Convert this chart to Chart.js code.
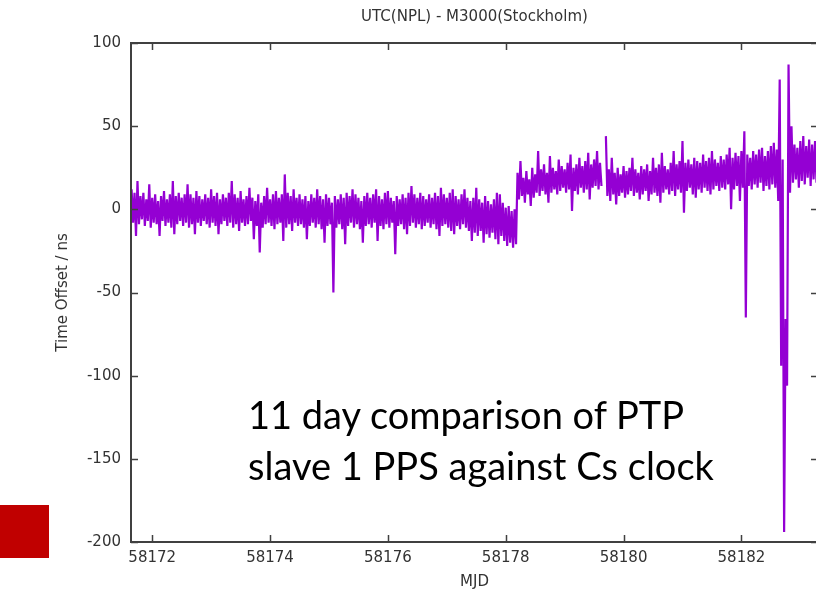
<!DOCTYPE html>
<html>

<head>
	<title>UTC(NPL) - M3000(Stockholm)</title>
	<script src="https://cdn.jsdelivr.net/npm/chart.js"></script>

	<style>
		body {
			margin: 0;
			background: #ffffff;
			overflow: hidden;
		}

		.wrap {
			position: relative;
			width: 816px;
			height: 591px;
			overflow: hidden;
		}

		.note {
			position: absolute;
			left: 248px;
			top: 389px;
			font-family: Lato, "Open Sans", sans-serif;
			font-size: 38px;
			line-height: 51px;
			color: #000000;
			white-space: nowrap;
		}

		.redbox {
			position: absolute;
			left: 0;
			top: 505px;
			width: 49px;
			height: 53px;
			background: #c00000;
		}
	</style>
</head>

<body>
	<div class="wrap">
		<canvas id="ptpChart" width="820" height="591"></canvas>
		<div class="note">11 day comparison of PTP<br />slave 1 PPS against Cs clock</div>
		<div class="redbox"></div>
	</div>

	<script>
		var chartTitle = "UTC(NPL) - M3000(Stockholm)";
		var xTitle = "MJD";
		var yTitle = "Time Offset / ns";

		var xTicks = [58172, 58174, 58176, 58178, 58180, 58182];
		var yTicks = [100, 50, 0, -50, -100, -150, -200];

		// samples every 0.05 MJD from 58171.65, upper and lower swing of each sample (ns)
		var mjdStart = 58171.65;
		var mjdStep = 0.05;

		var offsetHigh = [
			12, 10, 17, 8, 10, 6, 15, 7, 9, 5,
			8, 11, 6, 9, 17, 8, 10, 7, 9, 15,
			9, 7, 11, 8, 6, 9, 7, 12, 8, 10,
			6, 9, 7, 10, 17, 9, 7, 11, 6, 8,
			13, 7, 5, 9, 4, 8, 13, 6, 9, 11,
			7, 9, 21, 10, 8, 12, 7, 9, 6, 8,
			5, 9, 7, 12, 8, 6, 9, 7, 4, 8,
			6, 9, 7, 10, 8, 12, 9, 7, 5, 8,
			10, 7, 9, 12, 8, 6, 10, 11, 7, 5,
			8, 6, 9, 7, 10, 14, 9, 7, 10, 8,
			6, 9, 7, 10, 8, 13, 9, 7, 10, 12,
			8, 6, 9, 12, 7, 5, 7, 13, 6, 4,
			8, 5, 3, 6, 10, 9, 4, 1, 2, -1,
			0, 22, 29, 19, 23, 18, 25, 21, 35, 24,
			27, 22, 32, 25, 23, 30, 26, 24, 28, 33,
			25, 27, 31, 26, 29, 34, 27, 30, 35, 28,
			null, 44, 24, 31, 22, 25, 21, 26, 23, 25,
			31, 24, 22, 26, 24, 27, 23, 31, 25, 27,
			34, 26, 24, 28, 35, 27, 29, 41, 28, 30,
			27, 31, 29, 28, 33, 29, 31, 35, 30, 28,
			32, 30, 33, 37, 31, 34, 32, 35, 47, 33,
			31, 35, 33, 36, 37, 32, 35, 38, 40, 36,
			78, 30, -66, 87, 50, 39, 37, 41, 44, 38,
			42, 39, 41
		];

		var offsetLow = [
			-8, -16, -9, -6, -10, -7, -11, -8, -9, -16,
			-7, -10, -8, -11, -15, -9, -7, -10, -8, -11,
			-9, -15, -8, -10, -7, -9, -11, -8, -10, -15,
			-9, -7, -10, -8, -11, -9, -13, -8, -10, -9,
			-7, -18, -10, -26, -11, -9, -8, -10, -12, -9,
			-8, -19, -11, -9, -13, -8, -10, -9, -11, -18,
			-10, -8, -11, -9, -12, -20, -10, -9, -50, -11,
			-9, -12, -21, -10, -8, -11, -9, -12, -20, -10,
			-9, -11, -8, -19, -10, -12, -9, -11, -8, -27,
			-10, -9, -12, -15, -10, -8, -11, -9, -12, -10,
			-8, -11, -9, -12, -16, -10, -9, -11, -13, -15,
			-10, -12, -9, -11, -13, -19, -14, -16, -13, -20,
			-15, -17, -14, -18, -21, -16, -19, -22, -20, -23,
			-21, 6, 8, 4, 9, 2, 7, 10, 8, 11,
			9, 4, 10, 12, 9, 11, 13, 10, 12, -1,
			11, 9, 13, 10, 12, 6, 13, 14, 12, 14,
			null, 8, 5, 9, 3, 8, 10, 7, 9, 11,
			8, 10, 6, 9, 11, 5, 9, 10, 8, 4,
			10, 12, 9, 11, 8, 12, 10, -2, 11, 13,
			9, 7, 12, 10, 13, 11, 9, 12, 14, 11,
			13, 12, 15, 0, 12, 14, 5, 13, -65, 14,
			12, 15, 13, 16, 11, 14, 12, 15, 13, 5,
			-94, -194, -106, 10, 16, 18, 13, 17, 15, 19,
			14, 18, 16
		];

		// trace runs high, then low, inside each sample
		var trace = [];
		offsetHigh.forEach(function (h, i) {
			var t = mjdStart + i * mjdStep;
			trace.push({ x: t, y: h });
			trace.push({ x: t + mjdStep / 2, y: offsetLow[i] });
		});

		var textColor = "#333333";
		var axisFont = { family: "DejaVu Sans", size: 15 };

		var framePlugin = {
			id: "frame",
			afterDraw: function (chart) {
				var ctx = chart.ctx;
				var a = chart.chartArea;
				var xs = chart.scales.x;
				var ys = chart.scales.y;
				ctx.save();
				ctx.strokeStyle = "#404040";
				ctx.lineWidth = 2;
				ctx.strokeRect(a.left, a.top, a.right - a.left, a.bottom - a.top);
				ctx.lineWidth = 1.5;
				ctx.beginPath();
				xTicks.forEach(function (v) {
					var px = Math.round(xs.getPixelForValue(v)) + 0.5;
					ctx.moveTo(px, a.bottom);
					ctx.lineTo(px, a.bottom - 7);
					ctx.moveTo(px, a.top);
					ctx.lineTo(px, a.top + 7);
				});
				yTicks.forEach(function (v) {
					var py = Math.round(ys.getPixelForValue(v)) + 0.5;
					ctx.moveTo(a.left, py);
					ctx.lineTo(a.left + 7, py);
					ctx.moveTo(a.right, py);
					ctx.lineTo(a.right - 7, py);
				});
				ctx.stroke();

				ctx.fillStyle = textColor;
				ctx.font = '15px "DejaVu Sans"';
				ctx.textAlign = "center";
				ctx.textBaseline = "middle";
				ctx.fillText(chartTitle, (a.left + a.right) / 2, 17);
				ctx.restore();
			}
		};

		var ctx = document.getElementById("ptpChart").getContext("2d");
		var chart = new Chart(ctx, {
			type: "line",
			data: {
				datasets: [
					{
						data: trace,
						borderColor: "#9400d3",
						borderWidth: 2.2,
						pointRadius: 0,
						tension: 0,
						spanGaps: false,
						fill: false,
					},
				],
			},
			options: {
				responsive: false,
				animation: false,
				events: [],
				layout: { padding: { top: 43, right: 2, left: 0, bottom: 0 } },
				plugins: {
					legend: { display: false },
					tooltip: { enabled: false },
				},
				scales: {
					x: {
						type: "linear",
						min: 58171.64,
						max: 58183.3,
						grid: { display: false, drawTicks: false },
						border: { display: false },
						afterBuildTicks: function (s) {
							s.ticks = xTicks.map(function (v) { return { value: v }; });
						},
						afterFit: function (s) {
							s.height = 49;
						},
						ticks: {
							autoSkip: false,
							maxRotation: 0,
							padding: 7,
							color: textColor,
							font: axisFont,
							callback: function (v) { return String(v); },
						},
						title: {
							display: true,
							text: xTitle,
							color: textColor,
							font: axisFont,
							padding: { top: 0, bottom: 0 },
						},
					},
					y: {
						min: -200,
						max: 100,
						grid: { display: false, drawTicks: false },
						border: { display: false },
						afterBuildTicks: function (s) {
							s.ticks = yTicks.map(function (v) { return { value: v }; });
						},
						afterFit: function (s) {
							s.width = 131;
						},
						ticks: {
							autoSkip: false,
							padding: 10,
							color: textColor,
							font: axisFont,
							callback: function (v) { return String(v); },
						},
						title: {
							display: true,
							text: yTitle,
							color: textColor,
							font: axisFont,
							padding: { top: 54, bottom: 0 },
						},
					},
				},
			},
			plugins: [framePlugin],
		});
	</script>
</body>

</html>
